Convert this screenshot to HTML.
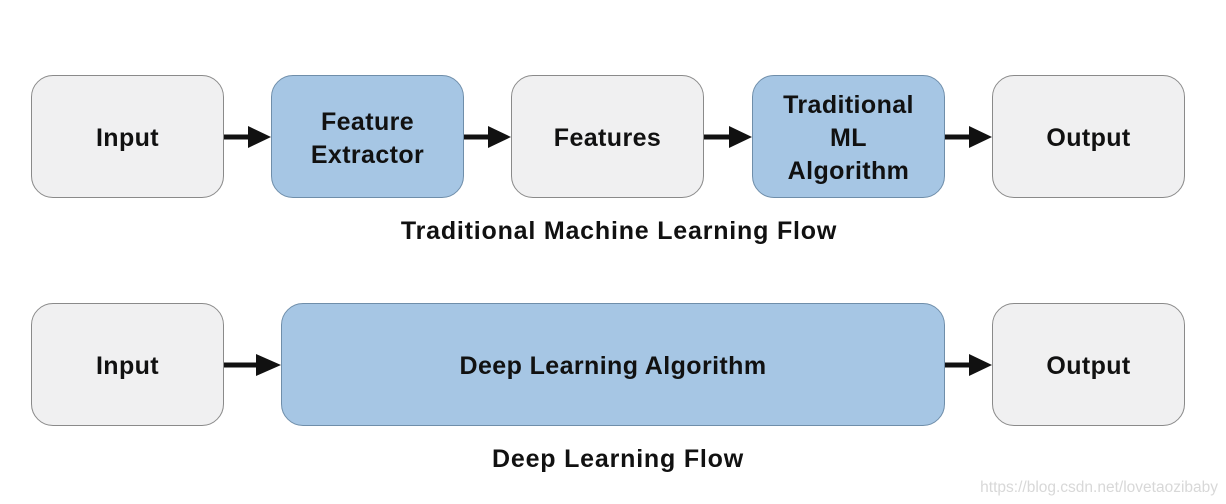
<!DOCTYPE html>
<html><head><style>
body{margin:0;width:1226px;height:504px;background:#fff;position:relative;overflow:hidden;font-family:"Liberation Sans",sans-serif;}
.b{position:absolute;box-sizing:border-box;border-radius:22px;display:flex;align-items:center;justify-content:center;text-align:center;font-weight:bold;font-size:25px;letter-spacing:0.4px;line-height:33px;color:#111;padding-top:4px;}
.g{background:#f0f0f1;border:1.5px solid #8a8a8a;}
.u{background:#a6c6e4;border:1.5px solid #6f8eaa;}
.cap{position:absolute;font-weight:bold;font-size:25px;letter-spacing:0.8px;color:#111;text-align:center;width:1226px;left:0;}
.wm{position:absolute;right:8px;bottom:7px;font-size:15.5px;color:#d8d8d8;}
</style></head><body>
<div class="b g" style="left:31px;top:75px;width:193px;height:123px">Input</div>
<div class="b u" style="left:271px;top:75px;width:193px;height:123px">Feature<br>Extractor</div>
<div class="b g" style="left:511px;top:75px;width:193px;height:123px">Features</div>
<div class="b u" style="left:752px;top:75px;width:193px;height:123px">Traditional<br>ML<br>Algorithm</div>
<div class="b g" style="left:992px;top:75px;width:193px;height:123px">Output</div>
<div class="cap" style="top:217px;left:6px">Traditional Machine Learning Flow</div>
<div class="b g" style="left:31px;top:303px;width:193px;height:123px">Input</div>
<div class="b u" style="left:281px;top:303px;width:664px;height:123px">Deep Learning Algorithm</div>
<div class="b g" style="left:992px;top:303px;width:193px;height:123px">Output</div>
<div class="cap" style="top:445px;left:5px">Deep Learning Flow</div>
<svg width="1226" height="504" style="position:absolute;left:0;top:0">
<g fill="#111" stroke="#111" stroke-width="5">
<line x1="224" y1="137" x2="252" y2="137"/><polygon points="248,126 271,137 248,148" stroke="none"/>
<line x1="464" y1="137" x2="492" y2="137"/><polygon points="488,126 511,137 488,148" stroke="none"/>
<line x1="704" y1="137" x2="733" y2="137"/><polygon points="729,126 752,137 729,148" stroke="none"/>
<line x1="945" y1="137" x2="973" y2="137"/><polygon points="969,126 992,137 969,148" stroke="none"/>
<line x1="224" y1="365" x2="260" y2="365"/><polygon points="256,354 281,365 256,376" stroke="none"/>
<line x1="945" y1="365" x2="973" y2="365"/><polygon points="969,354 992,365 969,376" stroke="none"/>
</g></svg>
<div class="wm">https://blog.csdn.net/lovetaozibaby</div>
</body></html>
